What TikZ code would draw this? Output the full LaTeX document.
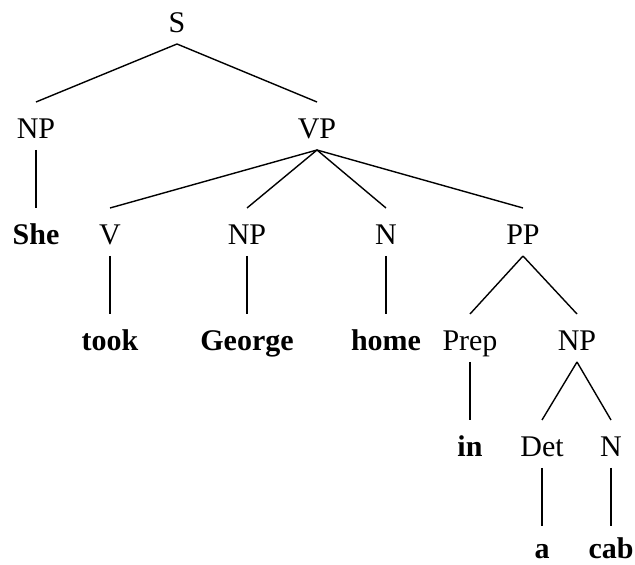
\documentclass[tikz,border=0pt]{standalone}
\usepackage{fontspec}
\setmainfont{Liberation Serif}
\begin{document}
\begin{tikzpicture}[x=1pt,y=1pt,
  lab/.style={anchor=base,inner sep=0pt,outer sep=0pt,text height=37pt,text depth=11pt,font=\fontsize{30}{30}\selectfont},
  word/.style={lab,font=\fontsize{30}{30}\selectfont\bfseries},
  edge/.style={line width=1.4pt,black}]
\useasboundingbox (0,0) rectangle (635,565);
% rows (baselines, image y): 33, 139, 245, 351, 457, 559
\node[lab] (S) at (177,532) {S};
\node[lab] (NPa) at (36,426) {NP};
\node[lab] (VP) at (317,426) {VP};
\node[word] (she) at (36,320) {She};
\node[lab] (V) at (110,320) {V};
\node[lab] (NPb) at (247,320) {NP};
\node[lab] (Na) at (386,320) {N};
\node[lab] (PP) at (523,320) {PP};
\node[word] (took) at (110,214) {took};
\node[word] (george) at (247,214) {George};
\node[word] (home) at (386,214) {home};
\node[lab] (prep) at (470,214) {Prep};
\node[lab] (NPc) at (577,214) {NP};
\node[word] (in) at (470,108) {in};
\node[lab] (det) at (542,108) {Det};
\node[lab] (Nb) at (611,108) {N};
\node[word,text height=33pt] (a) at (542,6) {a};
\node[word,text height=33pt] (cab) at (611,6) {cab};
\draw[edge] (S.south) -- (NPa.north);
\draw[edge] (S.south) -- (VP.north);
\draw[edge] (NPa.south) -- (she.north);
\draw[edge] (VP.south) -- (V.north);
\draw[edge] (VP.south) -- (NPb.north);
\draw[edge] (VP.south) -- (Na.north);
\draw[edge] (VP.south) -- (PP.north);
\draw[edge] (V.south) -- (took.north);
\draw[edge] (NPb.south) -- (george.north);
\draw[edge] (Na.south) -- (home.north);
\draw[edge] (PP.south) -- (prep.north);
\draw[edge] (PP.south) -- (NPc.north);
\draw[edge] (prep.south) -- (in.north);
\draw[edge] (NPc.south) -- (det.north);
\draw[edge] (NPc.south) -- (Nb.north);
\draw[edge] (det.south) -- (a.north);
\draw[edge] (Nb.south) -- (cab.north);
\end{tikzpicture}
\end{document}
